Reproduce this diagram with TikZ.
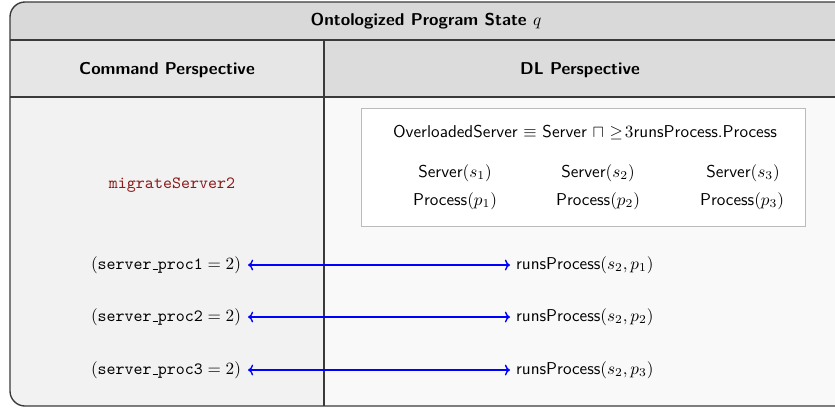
\documentclass[tikz,border=0pt]{standalone}
\usetikzlibrary{arrows.meta}
\definecolor{titlebg}{HTML}{D9D9D9}
\definecolor{headl}{HTML}{E6E6E6}
\definecolor{headr}{HTML}{DCDCDC}
\definecolor{bodyl}{HTML}{F2F2F2}
\definecolor{bodyr}{HTML}{F9F9F9}
\definecolor{rule}{HTML}{3A3A3A}
\definecolor{cmdred}{HTML}{8B1A1A}
\definecolor{axbox}{HTML}{BBBBBB}
\definecolor{linkblue}{HTML}{0000FF}
\newcommand\lowbar{\leavevmode\kern.06em\vbox{\hrule width.3em}}
\begin{document}
\begin{tikzpicture}[x=0.5833pt,y=-0.5833pt,
  lbl/.style={inner sep=1pt, font=\sffamily},
  hdr/.style={inner sep=1pt, font=\sffamily\bfseries},
  cmd/.style={inner sep=1pt},
  link/.style={color=linkblue, line width=0.8pt, {To[length=3pt]}-{To[length=3pt]}},
  divider/.style={draw=rule, line width=0.8pt}]
\useasboundingbox (0,0) rectangle (835,408);
\begin{scope}
  \clip (0,0) rectangle (835,408);
  \begin{scope}
    \clip[rounded corners=8.75pt] (10,2) rectangle (870,406);
    \fill[bodyl] (10,97) rectangle (324,406);
    \fill[bodyr] (324,97) rectangle (870,406);
    \fill[titlebg] (10,2) rectangle (870,40);
    \fill[headl] (10,40) rectangle (324,97);
    \fill[headr] (324,40) rectangle (870,97);
  \end{scope}
  \draw[divider] (10,40) -- (870,40);
  \draw[divider] (10,97) -- (870,97);
  \draw[divider] (324,40) -- (324,406);
  \draw[divider, rounded corners=8.75pt] (870,2) -- (10,2) -- (10,406) -- (870,406);
\end{scope}

\node[cmd] (c1) at (166,265) {$(\texttt{server\lowbar proc1} = 2)$};
\node[cmd] (c2) at (166,317) {$(\texttt{server\lowbar proc2} = 2)$};
\node[cmd] (c3) at (166,370) {$(\texttt{server\lowbar proc3} = 2)$};

\node[lbl, anchor=west] (r1) at (514,265) {runsProcess$(s_2,p_1)$};
\node[lbl, anchor=west] (r2) at (514,317) {runsProcess$(s_2,p_2)$};
\node[lbl, anchor=west] (r3) at (514,370) {runsProcess$(s_2,p_3)$};

\path (c1.east) ++(5,0) coordinate (c1e);
\path (r1.west) ++(-4,0) coordinate (r1w);
\path (c2.east) ++(5,0) coordinate (c2e);
\path (r2.west) ++(-4,0) coordinate (r2w);
\path (c3.east) ++(5,0) coordinate (c3e);
\path (r3.west) ++(-4,0) coordinate (r3w);
\draw[link] (c1e) -- (r1w);
\draw[link] (c2e) -- (r2w);
\draw[link] (c3e) -- (r3w);

\node[hdr] (title) at (426,21) {Ontologized Program State \normalfont$q$};
\node[hdr] (cmdh) at (167,70) {Command Perspective};
\node[hdr] (dlh) at (580,70) {DL Perspective};

\node[draw=axbox, fill=white, minimum width=444*0.5833pt, minimum height=118*0.5833pt, inner sep=0pt] (axioms) at (583,167) {};
\node[lbl] (tbox) at (585,133) {OverloadedServer $\equiv$ Server $\sqcap$ $\geq\!3$runsProcess.Process};
\node[lbl] (s1) at (455,173) {Server$(s_1)$};
\node[lbl] (s2) at (598,173) {Server$(s_2)$};
\node[lbl] (s3) at (743,173) {Server$(s_3)$};
\node[lbl] (p1) at (455,201) {Process$(p_1)$};
\node[lbl] (p2) at (598,201) {Process$(p_2)$};
\node[lbl] (p3) at (742,201) {Process$(p_3)$};

\node[cmd, text=cmdred] (mig) at (172,185) {\texttt{migrateServer2}};
\end{tikzpicture}
\end{document}
